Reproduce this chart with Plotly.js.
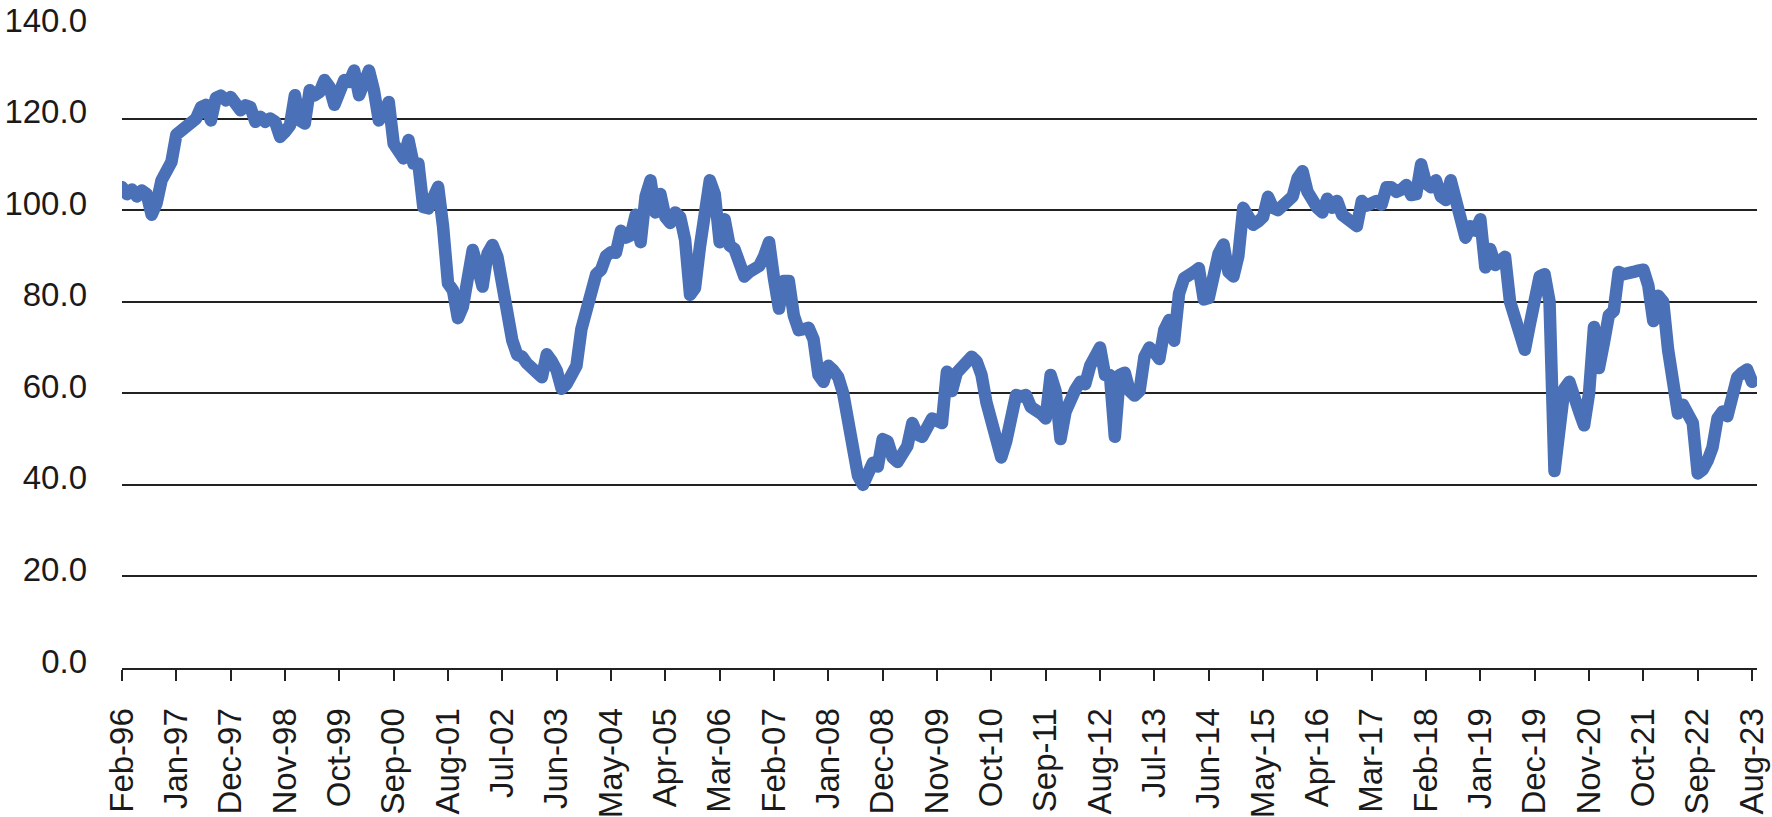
<!DOCTYPE html>
<html>
<head>
<meta charset="utf-8">
<script src="https://cdn.plot.ly/plotly-3.0.1.min.js"></script>
<style>
  html, body { margin: 0; padding: 0; background: #fff; }
  #plot { width: 1772px; height: 817px; }
  /* rounder joins like the original chart */
  #plot .scatterlayer path.js-line { stroke-linejoin: round; stroke-linecap: round; }
</style>
</head>
<body>
<div id="plot"></div>
<script>
// monthly series, Feb-96 .. Aug-23
var startYear = 1996, startMonth = 1; // Feb
var monthNames = ['Jan','Feb','Mar','Apr','May','Jun','Jul','Aug','Sep','Oct','Nov','Dec'];

var values = [
  105, 103.5, 104.5, 103, 104.3, 103.5, 99, 101.5, 106.5, 108.2,
  110.5, 116.5, 117.5, 117.8, 118.9, 120, 122.5, 123, 119.6, 124.5,
  125, 124, 124.7, 122.5, 121.8, 122.9, 122.5, 119.3, 120.4, 119.3,
  120, 119.3, 116, 117.1, 118.5, 125.1, 119.6, 118.9, 126.2, 125.1,
  125.8, 128.4, 126.9, 123, 127, 128.4, 128, 130.5, 125.1, 129.1,
  130.5, 126.2, 119.6, 121.1, 123.6, 114.5, 112.4, 111.3, 115.3, 110.2,
  110.2, 100.7, 100.4, 102.9, 105.1, 96.4, 84, 82.5, 76.4, 78.9,
  86.9, 91.3, 87.6, 83.3, 90.5, 92.4, 89.8, 82.5, 74.5, 71.6,
  68.4, 68, 66.5, 65, 64.5, 63.5, 68.5, 67, 65, 61,
  62, 64, 66, 74, 78, 84, 86, 87, 90, 90.8,
  90.7, 95.5, 94, 94.5, 99, 93, 103, 106.5, 99.5, 103.5,
  98.5, 97.2, 99.5, 98.5, 93.5, 81.5, 83, 92, 101, 106.5,
  103.5, 93, 98, 92.3, 91.5, 89, 85.5, 86.5, 87.3, 87.8,
  90, 93, 85, 78.5, 84.5, 84.5, 77, 73.8, 74, 74.3,
  71.8, 64, 62.5, 66, 65, 63.5, 60, 53, 47, 42,
  40, 43.5, 44.8, 44, 50, 49.5, 46, 45, 47.5, 48.5,
  53.5, 51, 50.5, 53.5, 54.5, 54, 53.5, 64.7, 60.5, 64.5,
  66, 67, 68, 67, 64, 58, 53, 50, 46, 49.5,
  54, 59.6, 59.3, 59.6, 57, 56.5, 55.6, 54.5, 64, 60.5,
  50, 55.9, 59, 60.8, 62.5, 62, 66, 68.5, 70, 64,
  64, 50.5, 64, 64.5, 60.5, 59.5, 60.5, 68, 70, 69,
  67.5, 73.8, 76, 71.5, 81.8, 85.1, 85.5, 86.5, 87.3, 80.5,
  80.8, 87, 90.5, 92.5, 86.5, 85.5, 90, 100.5, 98, 96.8,
  97.5, 98.5, 102.9, 100.5, 100, 101, 101.5, 103, 107, 108.5,
  104, 101.5, 100.5, 99.5, 102.5, 100.5, 102, 99, 98, 97.5,
  96.5, 102, 101, 101.5, 102, 101.2, 105, 105, 104, 104.5,
  105.5, 103.3, 103.5, 110, 105.8, 105, 106.5, 103, 102.2, 106.5,
  102, 97.5, 94, 96.5, 95.5, 98, 87.5, 91.5, 88, 89,
  89.8, 80, 76.5, 72, 69.5, 75, 81.5, 85.5, 86, 80,
  43, 54, 61, 62.5, 60, 56, 53, 60, 74.5, 65.5,
  71, 77, 78, 86.5, 86, 86, 86.5, 86.8, 87, 83.5,
  75.8, 81.3, 80, 69.5, 60, 55.6, 57.5, 55, 53.5, 42.5,
  43.3, 45.3, 48.2, 54.5, 56, 55, 61, 63.5, 64.5, 65.2,
  62.5
];

var tickLabels = ['Feb-96','Jan-97','Dec-97','Nov-98','Oct-99','Sep-00','Aug-01','Jul-02',
  'Jun-03','May-04','Apr-05','Mar-06','Feb-07','Jan-08','Dec-08','Nov-09','Oct-10',
  'Sep-11','Aug-12','Jul-13','Jun-14','May-15','Apr-16','Mar-17','Feb-18','Jan-19',
  'Dec-19','Nov-20','Oct-21','Sep-22','Aug-23'];

// category labels for every month
var months = values.map(function(v, i) {
  var m = startMonth + i;
  var y = startYear + Math.floor(m / 12);
  return monthNames[m % 12] + '-' + String(y).slice(2);
});

var trace = {
  type: 'scatter',
  mode: 'lines',
  x: months,
  y: values,
  line: {color: '#4a70b8', width: 12.5, shape: 'linear'},
  hoverinfo: 'x+y'
};

var axisFont = {family: '"Liberation Sans", Arial, sans-serif', size: 33, color: '#1a1a1a'};

var layout = {
  width: 1772,
  height: 817,
  margin: {l: 122, r: 15, t: 27, b: 149},
  paper_bgcolor: '#ffffff',
  plot_bgcolor: '#ffffff',
  showlegend: false,
  xaxis: {
    type: 'category',
    range: [0, 331],
    tickvals: tickLabels,
    ticktext: tickLabels,
    tickangle: -90,
    tickfont: axisFont,
    ticks: 'outside',
    ticklen: 11,
    tickwidth: 2,
    tickcolor: '#222',
    ticklabelstandoff: 14,
    showline: true,
    linecolor: '#222',
    linewidth: 2,
    showgrid: false,
    zeroline: false
  },
  yaxis: {
    range: [0, 140],
    tickvals: [0, 20, 40, 60, 80, 100, 120, 140],
    tickformat: '.1f',
    tickfont: axisFont,
    ticks: '',
    ticklabelstandoff: 34,
    ticklabelshift: -7,
    showgrid: true,
    gridcolor: '#222',
    gridwidth: 2,
    showline: false,
    zeroline: false
  }
};

Plotly.newPlot('plot', [trace], layout, {displayModeBar: false, staticPlot: true});
</script>
</body>
</html>
